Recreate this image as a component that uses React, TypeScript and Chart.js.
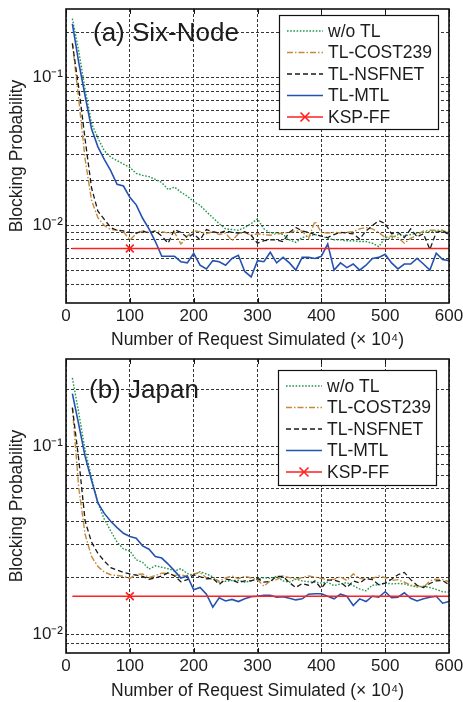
import React, { useEffect, useRef } from 'react';
import { Chart, registerables } from 'chart.js';

Chart.register(...registerables);

const xValues = [
  10, 20, 30, 40, 50, 60, 70, 80, 90, 100,
  110, 120, 130, 140, 150, 160, 170, 180, 190, 200,
  210, 220, 230, 240, 250, 260, 270, 280, 290, 300,
  310, 320, 330, 340, 350, 360, 370, 380, 390, 400,
  410, 420, 430, 440, 450, 460, 470, 480, 490, 500,
  510, 520, 530, 540, 550, 560, 570, 580, 590, 600,
];
const kspX = [10, 100, 600];
const kspMarkerX = 100;

const seriesLabels = ['w/o TL', 'TL-COST239', 'TL-NSFNET', 'TL-MTL', 'KSP-FF'];

// (a) Six-Node
const sixWithoutTL = [
  0.25, 0.15, 0.083, 0.049, 0.039, 0.032, 0.029, 0.0275, 0.026, 0.0247,
  0.0225, 0.0218, 0.0214, 0.0205, 0.0195, 0.0175, 0.0182, 0.0168, 0.0158, 0.0145,
  0.0137, 0.0124, 0.0113, 0.0103, 0.0095, 0.0094, 0.0093, 0.0097, 0.0103, 0.0111,
  0.0095, 0.0089, 0.0089, 0.0087, 0.008, 0.0077, 0.0083, 0.0085, 0.0087, 0.0085,
  0.0082, 0.008, 0.008, 0.0079, 0.0079, 0.0078, 0.0078, 0.0076, 0.0072, 0.0083,
  0.0082, 0.0087, 0.0085, 0.0087, 0.0089, 0.009, 0.0091, 0.0092, 0.0092, 0.009,
];
const sixCost239 = [
  0.17, 0.071, 0.028, 0.0148, 0.0113, 0.01, 0.0094, 0.0093, 0.0091, 0.008,
  0.0088, 0.0092, 0.009, 0.0092, 0.0091, 0.0089, 0.009, 0.0075, 0.0085, 0.0092,
  0.0091, 0.0088, 0.0091, 0.0087, 0.0089, 0.0079, 0.0088, 0.009, 0.0086, 0.0088,
  0.0087, 0.0086, 0.0088, 0.0089, 0.009, 0.0092, 0.0092, 0.0082, 0.0107, 0.009,
  0.0089, 0.009, 0.0089, 0.009, 0.0091, 0.0095, 0.0097, 0.0095, 0.009, 0.0083,
  0.0085, 0.0083, 0.0076, 0.0082, 0.0086, 0.0092, 0.0093, 0.0093, 0.0093, 0.0088,
];
const sixNsfnet = [
  0.17, 0.085, 0.038, 0.018, 0.0125, 0.011, 0.0097, 0.0093, 0.0092, 0.009,
  0.0089, 0.0092, 0.0089, 0.0092, 0.0085, 0.0076, 0.0094, 0.009, 0.0083, 0.0088,
  0.008, 0.0094, 0.0091, 0.0089, 0.0092, 0.009, 0.0089, 0.0091, 0.0086, 0.0076,
  0.0079, 0.008, 0.008, 0.0078, 0.009, 0.0097, 0.0092, 0.009, 0.0087, 0.0085,
  0.0083, 0.0087, 0.009, 0.0089, 0.0088, 0.0081, 0.0092, 0.01, 0.0108, 0.0103,
  0.0088, 0.009, 0.0083, 0.0095, 0.0084, 0.0088, 0.0069, 0.009, 0.0092, 0.0087,
];
const sixMtl = [
  0.23, 0.126, 0.075, 0.045, 0.034, 0.028, 0.0235, 0.019, 0.0185, 0.0155,
  0.0138, 0.0112, 0.0095, 0.0078, 0.0062, 0.0062, 0.0062, 0.0057, 0.0056, 0.0065,
  0.0054, 0.0051, 0.0058, 0.0057, 0.0054, 0.006, 0.0063, 0.0049, 0.0045, 0.0058,
  0.0057, 0.0066, 0.0056, 0.0061, 0.0056, 0.005, 0.0061, 0.0061, 0.006, 0.0062,
  0.0075, 0.005, 0.0056, 0.0052, 0.0055, 0.005, 0.0054, 0.006, 0.0061, 0.0064,
  0.0056, 0.0051, 0.0055, 0.0055, 0.006, 0.0055, 0.005, 0.0065, 0.0059, 0.0058,
];
const sixKsp = [0.007, 0.007, 0.007];

// (b) Japan
const japanWithoutTL = [
  0.23, 0.15, 0.095, 0.068, 0.05, 0.041, 0.0355, 0.031, 0.0285, 0.0278,
  0.025, 0.0242, 0.0223, 0.0232, 0.0228, 0.0224, 0.0218, 0.0224, 0.0211, 0.0207,
  0.0216, 0.021, 0.0203, 0.019, 0.0192, 0.0194, 0.0194, 0.019, 0.0193, 0.0197,
  0.0201, 0.0199, 0.0204, 0.0193, 0.019, 0.0197, 0.0193, 0.0191, 0.019, 0.0188,
  0.019, 0.0182, 0.0186, 0.0189, 0.0182, 0.0175, 0.0171, 0.0183, 0.0184, 0.0188,
  0.0186, 0.0187, 0.0186, 0.0182, 0.0179, 0.0181, 0.0178, 0.0174, 0.0169, 0.0168,
];
const japanCost239 = [
  0.16, 0.06, 0.034, 0.026, 0.023, 0.0215, 0.0208, 0.0206, 0.0204, 0.0199,
  0.0209, 0.021, 0.0201, 0.0206, 0.0212, 0.0212, 0.0206, 0.0208, 0.0204, 0.021,
  0.0214, 0.02, 0.0197, 0.0193, 0.02, 0.0205, 0.0198, 0.0205, 0.02, 0.0196,
  0.0181, 0.0193, 0.0196, 0.0205, 0.0201, 0.0197, 0.0201, 0.0205, 0.0202, 0.0199,
  0.0196, 0.0197, 0.0203, 0.0194, 0.021, 0.0199, 0.0197, 0.0199, 0.0205, 0.0201,
  0.0194, 0.0196, 0.019, 0.0183, 0.0182, 0.0178, 0.0193, 0.0197, 0.0196, 0.0191,
];
const japanNsfnet = [
  0.16, 0.085, 0.04, 0.031, 0.027, 0.0246, 0.0227, 0.022, 0.0214, 0.021,
  0.0207, 0.0204, 0.0197, 0.02, 0.0205, 0.0213, 0.0205, 0.0191, 0.0196, 0.0208,
  0.0203, 0.0198, 0.0199, 0.0185, 0.0197, 0.0195, 0.0189, 0.0193, 0.0193, 0.0199,
  0.019, 0.0192, 0.0204, 0.0204, 0.0189, 0.0178, 0.0187, 0.0183, 0.0193, 0.0176,
  0.0195, 0.0195, 0.019, 0.0178, 0.0193, 0.0188, 0.0199, 0.0196, 0.0184, 0.0188,
  0.0197, 0.0208, 0.0214, 0.0196, 0.0183, 0.0178, 0.0187, 0.0193, 0.0194, 0.0184,
];
const japanMtl = [
  0.19, 0.13, 0.088, 0.066, 0.05, 0.044, 0.04, 0.037, 0.0345, 0.0332,
  0.0325, 0.0296, 0.0284, 0.026, 0.0255, 0.0237, 0.0218, 0.02, 0.0205, 0.0173,
  0.0178, 0.0164, 0.014, 0.0157, 0.0151, 0.0154, 0.015, 0.0155, 0.0159, 0.016,
  0.0162, 0.0162, 0.0158, 0.0159, 0.0156, 0.0153, 0.0155, 0.0164, 0.0165, 0.0165,
  0.016, 0.0155, 0.0164, 0.016, 0.0143, 0.0155, 0.015, 0.016, 0.0158, 0.0169,
  0.0157, 0.0158, 0.0167, 0.0156, 0.0151, 0.0155, 0.0158, 0.016, 0.0147, 0.015,
];
const japanKsp = [0.016, 0.016, 0.016];

const xTicks = [0, 100, 200, 300, 400, 500, 600];
const sixYTicks = [0.004, 0.005, 0.006, 0.007, 0.008, 0.009, 0.01, 0.02, 0.03, 0.04, 0.05, 0.06, 0.07, 0.08, 0.09, 0.1, 0.2];
const japanYTicks = [0.009, 0.01, 0.02, 0.03, 0.04, 0.05, 0.06, 0.07, 0.08, 0.09, 0.1, 0.2];
const yTickLabels: Record<string, string> = { '0.01': '10\u207B\u00B2', '0.1': '10\u207B\u00B9' };

const FONT = '"Liberation Sans", Arial, Helvetica, sans-serif';
const TEXT = '#1c1c1c';
const GRID = 'rgba(20,20,20,0.85)';

const styles = [
  { color: '#22984c', dash: [1.6, 1.6], width: 1.4 },
  { color: '#c48a3c', dash: [6, 2, 1.5, 2], width: 1.4 },
  { color: '#1a1a1a', dash: [5, 3], width: 1.3 },
  { color: '#2452b0', dash: [] as number[], width: 1.6 },
  { color: '#ff2020', dash: [] as number[], width: 1.6 },
];

const panelPlugin = {
  id: 'panel',
  afterDraw(chart: any, _args: any, opts: any) {
    const { ctx, chartArea } = chart;
    const { left, top, right, bottom } = chartArea;
    ctx.save();
    const xs = chart.scales.x;
    ctx.strokeStyle = '#111';
    ctx.lineWidth = 1;
    ctx.setLineDash([]);
    xTicks.forEach((v) => {
      const px = Math.round(xs.getPixelForValue(v)) + 0.5;
      ctx.beginPath();
      ctx.moveTo(px, top);
      ctx.lineTo(px, top + 5);
      ctx.moveTo(px, bottom);
      ctx.lineTo(px, bottom - 5);
      ctx.stroke();
    });
    ctx.lineWidth = 1.6;
    ctx.strokeStyle = '#111';
    ctx.strokeRect(left, top, right - left, bottom - top);

    ctx.fillStyle = TEXT;
    ctx.font = `26px ${FONT}`;
    ctx.textBaseline = 'alphabetic';
    ctx.textAlign = 'left';
    ctx.fillText(opts.title, left + opts.titleDx, top + opts.titleDy);

    const bw = opts.legendW;
    const bh = opts.legendH;
    const bx = right - opts.legendRight - bw;
    const by = top + opts.legendTop;
    ctx.fillStyle = '#ffffff';
    ctx.fillRect(bx, by, bw, bh);
    ctx.lineWidth = 1.2;
    ctx.strokeStyle = '#111';
    ctx.strokeRect(bx + 0.5, by + 0.5, bw, bh);
    ctx.font = `17.5px ${FONT}`;
    ctx.textBaseline = 'middle';
    chart.data.datasets.forEach((ds: any, i: number) => {
      const ry = by + 16 + i * 21.5;
      const x0 = bx + 8;
      const x1 = bx + 44;
      ctx.strokeStyle = ds.borderColor;
      ctx.lineWidth = ds.borderWidth;
      ctx.setLineDash(ds.borderDash || []);
      ctx.beginPath();
      ctx.moveTo(x0, ry);
      ctx.lineTo(x1, ry);
      ctx.stroke();
      ctx.setLineDash([]);
      if (ds.legendMarker) {
        const cx = (x0 + x1) / 2;
        const r = 4.5;
        ctx.beginPath();
        ctx.moveTo(cx - r, ry - r);
        ctx.lineTo(cx + r, ry + r);
        ctx.moveTo(cx + r, ry - r);
        ctx.lineTo(cx - r, ry + r);
        ctx.stroke();
      }
      ctx.fillStyle = TEXT;
      ctx.fillText(ds.label, bx + 49, ry + 1);
    });
    ctx.restore();
  },
};

type PanelCfg = {
  series: number[][];
  ksp: number[];
  yMin: number;
  yMax: number;
  yTicks: number[];
  padTop: number;
  xAxisHeight: number;
  panel: any;
};

function buildConfig(cfg: PanelCfg): any {
  const datasets: any[] = cfg.series.map((vals, i) => ({
    label: seriesLabels[i],
    data: xValues.map((x, j) => ({ x, y: vals[j] })),
    borderColor: styles[i].color,
    borderDash: styles[i].dash,
    borderWidth: styles[i].width,
    pointRadius: 0,
    tension: 0,
    fill: false,
    order: 6 - i,
  }));
  datasets.push({
    label: seriesLabels[4],
    data: kspX.map((x, j) => ({ x, y: cfg.ksp[j] })),
    borderColor: styles[4].color,
    borderDash: styles[4].dash,
    borderWidth: styles[4].width,
    pointStyle: 'crossRot',
    pointRadius: (c: any) => (c.raw && c.raw.x === kspMarkerX ? 5.5 : 0),
    pointBorderColor: styles[4].color,
    pointBorderWidth: 1.6,
    tension: 0,
    fill: false,
    order: 1,
    legendMarker: true,
  });

  return {
    type: 'line',
    data: { datasets },
    options: {
      animation: false,
      responsive: false,
      devicePixelRatio: 1,
      events: [],
      layout: { padding: { top: cfg.padTop, right: 14, left: 0, bottom: 0 } },
      plugins: {
        legend: { display: false },
        tooltip: { enabled: false },
        panel: cfg.panel,
      },
      scales: {
        x: {
          type: 'linear',
          min: 0,
          max: 600,
          afterBuildTicks: (s: any) => {
            s.ticks = xTicks.map((v) => ({ value: v }));
          },
          afterFit: (s: any) => {
            s.height = cfg.xAxisHeight;
            s.paddingLeft = 0;
            s.paddingRight = 0;
            s.paddingTop = 0;
            s.paddingBottom = 0;
          },
          grid: { color: GRID, lineWidth: 1, drawTicks: false },
          border: { display: false, dash: [3, 2] },
          ticks: {
            font: { family: FONT, size: 17 },
            color: TEXT,
            padding: 3.5,
            maxRotation: 0,
            autoSkip: false,
            callback: (v: any) => String(v),
          },
          title: {
            display: true,
            text: 'Number of Request Simulated (\u00D7 10\u2074)',
            font: { family: FONT, size: 17.5 },
            color: TEXT,
            padding: { top: 0, bottom: 0 },
          },
        },
        y: {
          type: 'logarithmic',
          min: cfg.yMin,
          max: cfg.yMax,
          afterBuildTicks: (s: any) => {
            s.ticks = cfg.yTicks.map((v) => ({ value: v }));
          },
          afterFit: (s: any) => {
            s.width = 66;
            s.paddingLeft = 0;
            s.paddingRight = 0;
            s.paddingTop = 0;
            s.paddingBottom = 0;
          },
          grid: { color: GRID, lineWidth: 1, drawTicks: false },
          border: { display: false, dash: [3, 2] },
          ticks: {
            font: { family: FONT, size: 17 },
            color: TEXT,
            padding: 3,
            autoSkip: false,
            callback: (v: any) => yTickLabels[String(v)] || '',
          },
          title: {
            display: true,
            text: 'Blocking Probability',
            font: { family: FONT, size: 17.5 },
            color: TEXT,
            padding: { top: 7, bottom: 0 },
          },
        },
      },
    },
    plugins: [panelPlugin],
  };
}

function Panel({ cfg }: { cfg: PanelCfg }) {
  const ref = useRef<HTMLCanvasElement | null>(null);
  useEffect(() => {
    if (!ref.current) return;
    const chart = new Chart(ref.current, buildConfig(cfg));
    return () => chart.destroy();
  }, [cfg]);
  return <canvas ref={ref} width={463} height={351} style={{ display: 'block', width: 463, height: 351 }} />;
}

const sixCfg: PanelCfg = {
  series: [sixWithoutTL, sixCost239, sixNsfnet, sixMtl],
  ksp: sixKsp,
  yMin: 0.003,
  yMax: 0.29,
  yTicks: sixYTicks,
  padTop: 9,
  xAxisHeight: 48,
  panel: { title: '(a) Six-Node', titleDx: 27, titleDy: 32, legendW: 159, legendH: 114, legendRight: 11, legendTop: 6 },
};

const japanCfg: PanelCfg = {
  series: [japanWithoutTL, japanCost239, japanNsfnet, japanMtl],
  ksp: japanKsp,
  yMin: 0.008,
  yMax: 0.29,
  yTicks: japanYTicks,
  padTop: 8,
  xAxisHeight: 49,
  panel: { title: '(b) Japan', titleDx: 23, titleDy: 39, legendW: 158, legendH: 115, legendRight: 13, legendTop: 11 },
};

export default function App() {
  Chart.defaults.font.family = FONT;
  return (
    <div style={{ position: 'absolute', left: 0, top: 0, width: 463, height: 702, background: '#fff' }}>
      <Panel cfg={sixCfg} />
      <Panel cfg={japanCfg} />
    </div>
  );
}
